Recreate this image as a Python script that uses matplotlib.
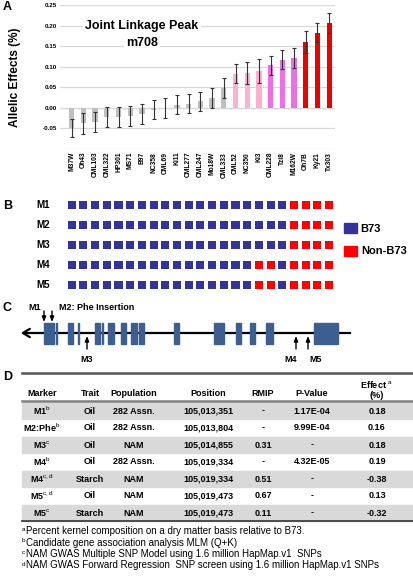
import matplotlib.pyplot as plt
from matplotlib.patches import Rectangle

plt.rcParams['font.family'] = ['Liberation Sans', 'DejaVu Sans']
plt.rcParams['mathtext.fontset'] = 'custom'
plt.rcParams['mathtext.rm'] = 'Liberation Sans'
plt.rcParams['mathtext.bf'] = 'Liberation Sans:bold'

# ---- panel A data ----
lines = ['M37W', 'Oh43', 'CML103', 'CML322', 'HP301', 'MS71', 'B97', 'NC358',
         'CML69', 'Ki11', 'CML277', 'CML247', 'Mo18W', 'CML333', 'CML52',
         'NC350', 'Ki3', 'CML228', 'Tzi8', 'M162W', 'Oh7B', 'Ky21', 'Tx303']
effects = [-0.048, -0.038, -0.035, -0.022, -0.022, -0.019, -0.015, -0.004,
           0.000, 0.008, 0.010, 0.016, 0.024, 0.048, 0.083,
           0.085, 0.090, 0.103, 0.117, 0.122, 0.160, 0.183, 0.207]
errors = [0.022, 0.026, 0.024, 0.025, 0.024, 0.024, 0.024, 0.023,
          0.024, 0.023, 0.023, 0.023, 0.025, 0.025, 0.023,
          0.026, 0.029, 0.024, 0.023, 0.024, 0.027, 0.024, 0.024]
groups = ['grey'] * 14 + ['pink'] * 3 + ['violet'] * 3 + ['red'] * 3
group_colors = {'grey': '#c0c0c0', 'pink': '#ffafd0', 'violet': '#ee6ee6', 'red': '#ee0000'}

# ---- panel B data (1 = B73 allele, 0 = non-B73) ----
markers = ['M1', 'M2', 'M3', 'M4', 'M5']
haplotypes = [
    [1] * 19 + [0] * 4,
    [1] * 19 + [0] * 4,
    [1] * 19 + [0] * 4,
    [1] * 16 + [0, 0, 1] + [0] * 4,
    [1] * 16 + [0, 0, 1] + [0] * 4,
]

# ---- panel C data (gene model, drawing units) ----
exons = [(44, 54), (56, 57.5), (68, 73), (78, 79.5), (95, 100), (102, 103.5),
         (108, 114), (121, 126), (131, 137), (139, 144), (174, 179), (214, 224),
         (236, 241), (250, 255), (266, 273), (314, 338)]
snp_top = [44, 52]
snp_bottom = {'M3': 87, 'M4': 296, 'M5': 308}
snp_label_shift = {'M3': 0, 'M4': -5, 'M5': 8}

# ---- panel D data ----
header = ['Marker', 'Trait', 'Population', 'Position', 'RMIP', 'P-Value', 'Effect $^{\\mathrm{a}}$\n(%)']
marker_col = ['M1$^{\\mathrm{b}}$', 'M2:Phe$^{\\mathrm{b}}$', 'M3$^{\\mathrm{c}}$', 'M4$^{\\mathrm{b}}$',
              'M4$^{\\mathrm{c,d}}$', 'M5$^{\\mathrm{c,d}}$', 'M5$^{\\mathrm{c}}$']
trait_col = ['Oil', 'Oil', 'Oil', 'Oil', 'Starch', 'Oil', 'Starch']
pop_col = ['282 Assn.', '282 Assn.', 'NAM', '282 Assn.', 'NAM', 'NAM', 'NAM']
pos_col = ['105,013,351', '105,013,804', '105,014,855', '105,019,334', '105,019,334',
           '105,019,473', '105,019,473']
rmip_col = ['-', '-', '0.31', '-', '0.51', '0.67', '0.11']
p_col = ['1.17E-04', '9.99E-04', '-', '4.32E-05', '-', '-', '-']
eff_col = ['0.18', '0.16', '0.18', '0.19', '-0.38', '0.13', '-0.32']
note_keys = ['a', 'b', 'c', 'd']
notes = [
    'Percent kernel composition on a dry matter basis relative to B73.',
    'Candidate gene association analysis MLM (Q+K)',
    'NAM GWAS Multiple SNP Model using 1.6 million HapMap.v1  SNPs',
    'NAM GWAS Forward Regression  SNP screen using 1.6 million HapMap.v1 SNPs',
]

W, H = 414, 580
fig = plt.figure(figsize=(W / 100, H / 100), dpi=100)


def box(x0, y0, x1, y1):
    return [x0 / W, 1 - y1 / H, (x1 - x0) / W, (y1 - y0) / H]


# ---------------- A ----------------
ax = fig.add_axes(box(60, 5, 335, 149))
x = list(range(len(lines)))
ax.bar(x, effects, width=0.45, color=[group_colors[g] for g in groups], zorder=2)
ax.errorbar(x, effects, yerr=errors, fmt='none', ecolor='#333333', elinewidth=0.8,
            capsize=1.5, capthick=0.8, zorder=3)
ax.set_xlim(-1.0, 22.5)
ax.set_ylim(-0.10, 0.25)
ax.set_yticks([-0.10, -0.05, 0.0, 0.05, 0.10, 0.15, 0.20, 0.25])
ax.set_yticklabels(['', '-0.05', '0.00', '0.05', '0.10', '0.15', '0.20', '0.25'],
                   fontsize=4.5, fontweight='bold')
ax.grid(axis='y', color='#d9d9d9', lw=0.9, zorder=0)
ax.axhline(0, color='#bfbfbf', lw=0.8, zorder=1)
ax.vlines([i + 0.5 for i in range(-1, len(lines))], -0.003, 0, color='#bfbfbf', lw=0.6, zorder=1)
ax.set_xticks(x)
ax.set_xticklabels(lines, rotation=90, fontsize=4.8, fontweight='bold', va='top')
ax.tick_params(length=0, pad=2)
for s in ax.spines.values():
    s.set_visible(False)
ax.set_ylabel('Allelic Effects (%)', fontsize=8.5, fontweight='bold', labelpad=16)
ax.text(6.0, 0.20, 'Joint Linkage Peak', ha='center', va='center', fontsize=9,
        fontweight='bold', bbox=dict(fc='white', ec='none', pad=1.5), zorder=4)
ax.text(6.0, 0.157, 'm708', ha='center', va='center', fontsize=9,
        fontweight='bold', bbox=dict(fc='white', ec='none', pad=1.5), zorder=4)

# ---------------- B ----------------
axb = fig.add_axes(box(60, 195, 335, 295))
for r, row in enumerate(haplotypes):
    cols = ['#333399' if v == 1 else '#ff0000' for v in row]
    axb.scatter(range(len(row)), [r + 1] * len(row), s=34, marker='s', c=cols, linewidths=0)
axb.set_xlim(-1.0, 22.5)
axb.set_ylim(5.5, 0.5)
axb.axis('off')

# ---------------- overlay (labels, C, D) ----------------
ov = fig.add_axes([0, 0, 1, 1])
ov.set_xlim(0, W)
ov.set_ylim(H, 0)
ov.axis('off')
ov.patch.set_visible(False)

for lab, yy in zip('ABCD', [7, 206, 308, 377]):
    ov.text(3, yy, lab, fontsize=9, fontweight='bold', va='center', ha='left')

for r, m in enumerate(markers):
    ov.text(43, 205 + 20 * r, m, fontsize=7, fontweight='bold', ha='center', va='center')

ov.add_patch(Rectangle((344, 223), 13, 10, color='#333399'))
ov.add_patch(Rectangle((344, 246), 13, 10, color='#ff0000'))
ov.text(360, 228.5, 'B73', fontsize=8, fontweight='bold', va='center')
ov.text(361, 251.5, 'Non-B73', fontsize=8, fontweight='bold', va='center')

# gene model
ov.annotate('', xy=(18, 333), xytext=(353, 333),
            arrowprops=dict(arrowstyle='->,head_length=0.5,head_width=0.3', lw=1.6, color='black'))
for a, b in exons:
    ov.add_patch(Rectangle((a, 323), b - a, 21, color='#3c5f8f', zorder=3))
arrow_style = dict(arrowstyle='-|>,head_length=0.3,head_width=0.12', lw=1, color='black',
                   shrinkA=0, shrinkB=0)
for xx in snp_top:
    ov.annotate('', xy=(xx, 322), xytext=(xx, 311), arrowprops=arrow_style)
ov.text(35, 308, 'M1', fontsize=6.5, fontweight='bold', ha='center', va='center')
ov.text(59, 308, 'M2: Phe Insertion', fontsize=6.5, fontweight='bold', ha='left', va='center')
for name, xx in snp_bottom.items():
    ov.annotate('', xy=(xx, 336), xytext=(xx, 349), arrowprops=arrow_style)
    ov.text(xx + snp_label_shift[name], 359, name, fontsize=6.5, fontweight='bold',
            ha='center', va='center')

# table
col_x = [42, 90, 134, 208, 263, 312, 377]
row_y = [411 + 17 * i for i in range(7)]
ov.plot([22, 413], [373, 373], color='#555555', lw=1.8)
for i, yy in enumerate(row_y):
    if i % 2 == 0:
        ov.add_patch(Rectangle((22, yy - 8), 391, 16, color='#d9d9d9', zorder=0))
ov.plot([22, 413], [401, 401], color='#7f7f7f', lw=1.8)
ov.plot([22, 413], [row_y[-1] + 8, row_y[-1] + 8], color='#333333', lw=1.2)
for cx, h in zip(col_x, header):
    if '\n' in h:
        t1, t2 = h.split('\n')
        ov.text(cx, 385, t1, fontsize=6.5, fontweight='bold', ha='center', va='center')
        ov.text(cx, 395, t2, fontsize=6.5, fontweight='bold', ha='center', va='center')
    else:
        ov.text(cx, 393, h, fontsize=6.5, fontweight='bold', ha='center', va='center')
table_cols = [marker_col, trait_col, pop_col, pos_col, rmip_col, p_col, eff_col]
for cx, col in zip(col_x, table_cols):
    for yy, val in zip(row_y, col):
        ov.text(cx, yy, val, fontsize=6.5, fontweight='bold', ha='center', va='center')
for i, (k, note) in enumerate(zip(note_keys, notes)):
    yy = 531 + 11.5 * i
    ov.text(22, yy - 1.5, k, fontsize=4.5, ha='left', va='center')
    ov.text(26.5, yy, note, fontsize=7.0, ha='left', va='center')

fig.savefig('out.png', dpi=100)
